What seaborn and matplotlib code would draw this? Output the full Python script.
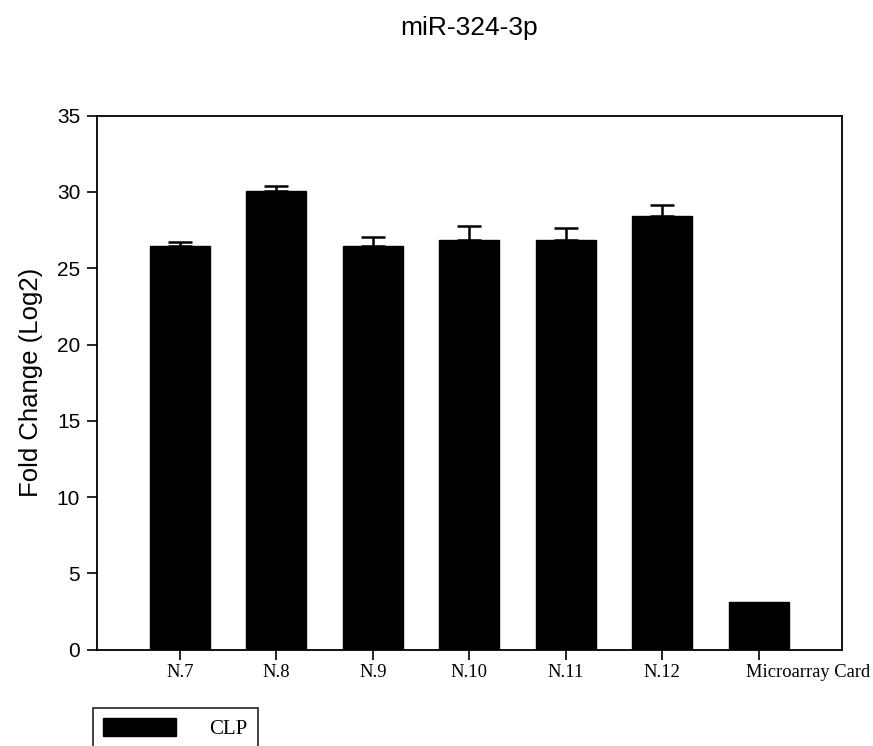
import matplotlib
matplotlib.use("Agg")
import matplotlib.pyplot as plt
import matplotlib.transforms as mtransforms
import numpy as np
import pandas as pd
import seaborn as sns
from matplotlib.patches import Patch

# Values
samples = ["N.7", "N.8", "N.9", "N.10", "N.11", "N.12", "Microarray Card"]
fold_change = [26.45, 30.05, 26.45, 26.85, 26.85, 28.4, 3.15]
error_up = [0.25, 0.35, 0.6, 0.9, 0.8, 0.75, 0.0]

df = pd.DataFrame({"sample": samples, "fold": fold_change})

sns.set_style("white")
plt.rcParams["text.color"] = "black"
plt.rcParams["axes.labelcolor"] = "black"
plt.rcParams["xtick.color"] = "black"
plt.rcParams["ytick.color"] = "black"

fig = plt.figure(figsize=(8.73, 7.46), dpi=100)
ax = fig.add_axes([0.111, 0.129, 0.853, 0.716])

sns.barplot(data=df, x="sample", y="fold", color="black", width=0.62,
            saturation=1, edgecolor="black", errorbar=None, ax=ax)

# upward-only error bars
has_err = np.array(error_up) > 0
xs = np.arange(len(samples))[has_err]
ax.errorbar(xs, np.array(fold_change)[has_err],
            yerr=[np.zeros(has_err.sum()), np.array(error_up)[has_err]],
            fmt="none", ecolor="black", elinewidth=1.8, capsize=8.5, capthick=1.8)

ax.set_xlim(-0.86, 6.86)
ax.set_ylim(0, 35)
ax.set_yticks(range(0, 36, 5))

for s in ax.spines.values():
    s.set_visible(True)
    s.set_color("black")
    s.set_linewidth(1.3)

ax.tick_params(axis="both", direction="out", length=7, width=1.2, color="black",
               bottom=True, left=True, top=False, right=False)
ax.tick_params(axis="y", labelsize=15, pad=5)
ax.tick_params(axis="x", labelsize=13.3, pad=3)
for lab in ax.get_xticklabels():
    lab.set_fontfamily("Liberation Serif")
for lab in ax.get_yticklabels():
    lab.set_fontfamily("Liberation Sans")

# last label sits mostly to the right of its tick
last = ax.get_xticklabels()[-1]
last.set_horizontalalignment("left")
last.set_transform(last.get_transform() +
                   mtransforms.ScaledTranslation(-13 / 100, 0, fig.dpi_scale_trans))

ax.set_xlabel("")
ax.set_ylabel("Fold Change (Log2)", fontsize=18.5, family="Liberation Sans", labelpad=10)

fig.text(0.537, 1 - 35 / 746, "miR-324-3p", ha="center", va="baseline",
         fontsize=19, family="Liberation Sans")

handle = Patch(facecolor="black", edgecolor="black")
leg = fig.legend([handle], ["CLP"], loc="upper left", bbox_to_anchor=(0.106, 0.051),
                 borderaxespad=0,
                 prop={"family": "Liberation Serif", "size": 15},
                 handlelength=3.5, handleheight=0.9, handletextpad=1.6,
                 borderpad=0.5, fancybox=False, frameon=True)
leg.get_frame().set_edgecolor("black")
leg.get_frame().set_linewidth(1.3)

fig.savefig("out.png", dpi=100)
